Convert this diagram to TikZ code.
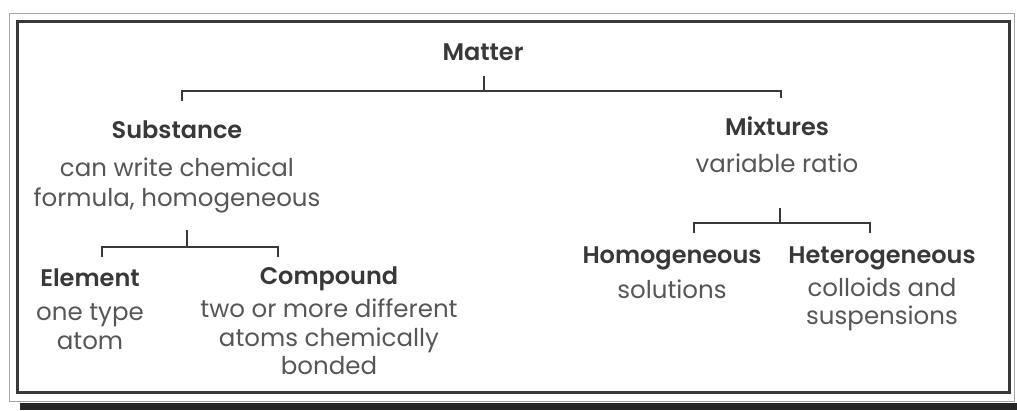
\documentclass[tikz,border=0pt]{standalone}
\usepackage{fontspec}
\setmainfont{Poppins}[BoldFont={Poppins SemiBold}]
\usepackage{xcolor}
\usetikzlibrary{positioning, calc}
\definecolor{ink}{HTML}{383838}

\begin{document}
\begin{tikzpicture}[x=1pt, y=-1pt,
    head/.style={font=\bfseries\fontsize{24}{28}\selectfont, text=ink,
                 inner sep=0pt, text height=17pt, text depth=5pt},
    desc/.style={font=\fontsize{24.5}{28.5}\selectfont, text=ink!85,
                 align=center, inner sep=0pt, anchor=north},
    bar/.style={draw=ink, line width=1.8pt}]

    \useasboundingbox (0,0) rectangle (1017,410);

    % --- Frame ---
    \draw[gray!70, line width=0.9pt] (9,13) rectangle (1014,401);
    \draw[ink, line width=3pt] (17,21) rectangle (1009,392);
    \fill[black!85] (20,403) rectangle (1017,410);

    % --- Top level ---
    \node[head] (matter) at (483,54) {Matter};

    % --- Second level ---
    \node[head] (subst) at (177,132) {Substance};
    \node[desc] (substd) at (177,157.5) {can write chemical\\[1.5pt]formula, homogeneous};
    \node[head] (mixt) at (777,129) {Mixtures};
    \node[desc] (mixtd) at (777,153.5) {variable ratio};

    % --- Third level ---
    \node[head] (elem) at (90,280) {Element};
    \node[desc] (elemd) at (90,303.5) {one type\\atom};
    \node[head] (comp) at (329,278) {Compound};
    \node[desc] (compd) at (329,299) {two or more different\\atoms chemically\\bonded};
    \node[head] (homo) at (672,257) {Homogeneous};
    \node[desc] (homod) at (672,279.5) {solutions};
    \node[head] (hetero) at (882,257) {Heterogeneous};
    \node[desc] (heterod) at (882,277.5) {colloids and\\suspensions};

    % --- Brackets ---
    \coordinate (mbar) at (484,91);
    \coordinate (sbar) at (187,247);
    \coordinate (xbar) at (780,223);

    \draw[bar] ([xshift=5pt,yshift=20pt]subst.north) |- (mbar) -| ([xshift=4pt,yshift=20pt]mixt.north);
    \draw[bar] (mbar) -- ++(0,-15);
    \draw[bar] ([xshift=12pt,yshift=12pt]elem.north) |- (sbar) -| ([xshift=-51pt,yshift=10pt]comp.north);
    \draw[bar] (sbar) -- ++(0,-17);
    \draw[bar] ([xshift=22pt,yshift=13pt]homo.north) |- (xbar) -| ([xshift=-12pt,yshift=13pt]hetero.north);
    \draw[bar] (xbar) -- ++(0,-15);
\end{tikzpicture}
\end{document}
